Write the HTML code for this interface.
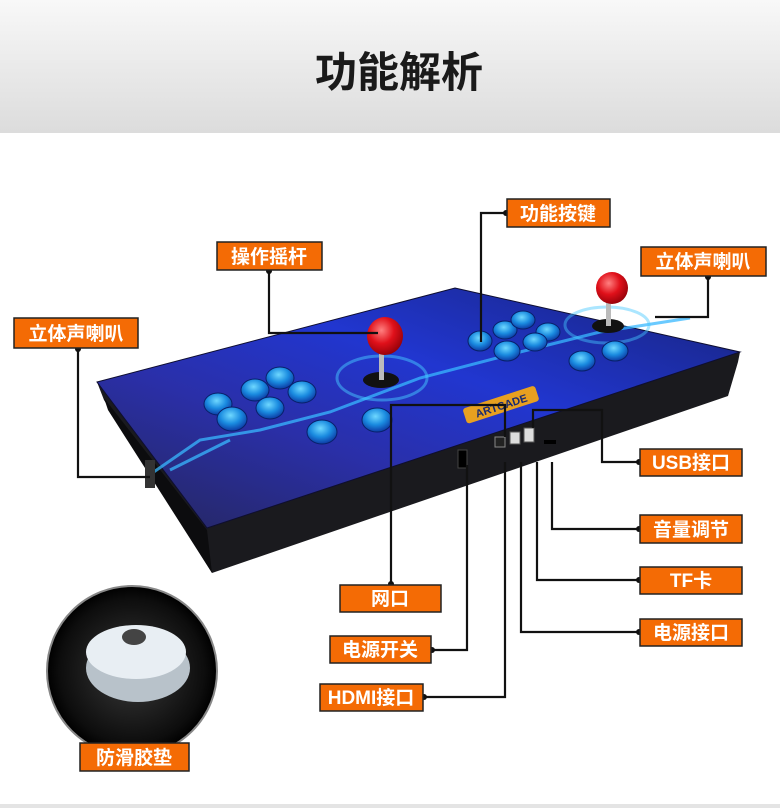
<!DOCTYPE html>
<html><head><meta charset="utf-8"><style>
html,body{margin:0;padding:0;background:#fff;}
svg{display:block;font-family:"Liberation Sans","Noto Sans CJK SC",sans-serif;}
</style></head><body>
<svg width="780" height="808" viewBox="0 0 780 808" xmlns="http://www.w3.org/2000/svg">
<defs>
<linearGradient id="hd" x1="0" y1="0" x2="0" y2="1"><stop offset="0" stop-color="#f8f8f8"/><stop offset="1" stop-color="#dcdcdc"/></linearGradient>
<linearGradient id="top" x1="0" y1="1" x2="1" y2="0"><stop offset="0" stop-color="#25265a"/><stop offset="0.35" stop-color="#2a2fa8"/><stop offset="0.6" stop-color="#2136d0"/><stop offset="0.85" stop-color="#1b2a9a"/><stop offset="1" stop-color="#14183e"/></linearGradient>
<radialGradient id="btn" cx="0.45" cy="0.35" r="0.7"><stop offset="0" stop-color="#6fd8ff"/><stop offset="0.5" stop-color="#1a8be0"/><stop offset="1" stop-color="#0a2d9a"/></radialGradient>
<radialGradient id="ball" cx="0.4" cy="0.35" r="0.7"><stop offset="0" stop-color="#ff8080"/><stop offset="0.5" stop-color="#e0101a"/><stop offset="1" stop-color="#900008"/></radialGradient>
<radialGradient id="pad" cx="0.5" cy="0.5" r="0.5"><stop offset="0" stop-color="#3a3a3a"/><stop offset="0.85" stop-color="#0d0d0d"/><stop offset="1" stop-color="#000"/></radialGradient>
</defs>
<rect x="0" y="0" width="780" height="133" fill="url(#hd)"/>
<text x="399" y="87" font-size="42" font-weight="bold" text-anchor="middle" fill="#1a1a1a">功能解析</text>
<rect x="0" y="804" width="780" height="4" fill="#e4e4e4"/>

<polygon points="97,382 207,528 740,352 738,362 728,396 212,573 104,400" fill="#1a1a1e"/>
<polygon points="104,398 207,530 212,573 108,410" fill="#0c0c0e"/>
<polygon points="97,382 455,288 740,352 207,528" fill="url(#top)" stroke="#0e0e30" stroke-width="1"/>
<g stroke="#38b8ff" stroke-width="3" fill="none" opacity="0.75">
<polyline points="145,478 200,440 260,430 330,412 420,378 520,352 600,332 690,318"/>
<polyline points="170,470 230,440"/>
</g>
<ellipse cx="382" cy="378" rx="45" ry="22" fill="none" stroke="#45c8ff" stroke-width="3" opacity="0.5"/>
<ellipse cx="607" cy="325" rx="42" ry="18" fill="none" stroke="#45c8ff" stroke-width="3" opacity="0.45"/>
<rect x="145" y="460" width="10" height="28" fill="#333"/>
<g transform="rotate(-18 500 405)"><rect x="463" y="397" width="76" height="16" rx="3" fill="#e8a020"/><text x="501" y="410" font-size="11" font-weight="bold" text-anchor="middle" fill="#1a2a70">ARTCADE</text></g>
<g fill="url(#btn)" stroke="#08206a" stroke-width="1">
<ellipse cx="218" cy="404" rx="14" ry="11"/><ellipse cx="255" cy="390" rx="14" ry="11"/><ellipse cx="280" cy="378" rx="14" ry="11"/>
<ellipse cx="302" cy="392" rx="14" ry="11"/><ellipse cx="232" cy="419" rx="15" ry="12"/><ellipse cx="270" cy="408" rx="14" ry="11"/>
<ellipse cx="322" cy="432" rx="15" ry="12"/><ellipse cx="377" cy="420" rx="15" ry="12"/>
<ellipse cx="480" cy="341" rx="12" ry="10"/><ellipse cx="505" cy="330" rx="12" ry="9"/><ellipse cx="523" cy="320" rx="12" ry="9"/>
<ellipse cx="548" cy="332" rx="12" ry="9"/><ellipse cx="507" cy="351" rx="13" ry="10"/><ellipse cx="535" cy="342" rx="12" ry="9"/>
<ellipse cx="582" cy="361" rx="13" ry="10"/><ellipse cx="615" cy="351" rx="13" ry="10"/>
</g>
<ellipse cx="381" cy="380" rx="18" ry="8" fill="#111"/>
<rect x="379" y="350" width="5" height="30" fill="#bbb"/>
<ellipse cx="385" cy="336" rx="18" ry="19" fill="url(#ball)"/>
<ellipse cx="608" cy="326" rx="16" ry="7" fill="#111"/>
<rect x="606" y="300" width="5" height="26" fill="#bbb"/>
<ellipse cx="612" cy="288" rx="16" ry="16" fill="url(#ball)"/>
<rect x="458" y="450" width="9" height="18" fill="#000" stroke="#444"/>
<rect x="495" y="437" width="10" height="10" fill="#222" stroke="#888"/>
<rect x="510" y="432" width="10" height="12" fill="#ddd" stroke="#555"/>
<rect x="524" y="428" width="10" height="14" fill="#ddd" stroke="#555"/>
<rect x="544" y="440" width="12" height="4" fill="#000"/>

<g stroke="#111" stroke-width="2.2" fill="none">
<polyline points="78,348 78,477 150,477"/>
<polyline points="269,270 269,333 378,333"/>
<polyline points="507,213 481,213 481,342"/>
<polyline points="708,276 708,317 655,317"/>
<polyline points="640,462 602,462 602,410 533,410 533,428"/>
<polyline points="640,529 552,529 552,462"/>
<polyline points="640,580 537,580 537,462"/>
<polyline points="640,632 521,632 521,462"/>
<polyline points="391,585 391,405 505,405 505,437"/>
<polyline points="431,650 467,650 467,465"/>
<polyline points="423,697 505,697 505,462"/>
</g>
<g fill="#111">
<circle cx="78" cy="349" r="3"/><circle cx="269" cy="271" r="3"/><circle cx="506" cy="213" r="3"/><circle cx="708" cy="277" r="3"/>
<circle cx="639" cy="462" r="3"/><circle cx="639" cy="529" r="3"/><circle cx="639" cy="580" r="3"/><circle cx="639" cy="632" r="3"/>
<circle cx="391" cy="584" r="3"/><circle cx="432" cy="650" r="3"/><circle cx="424" cy="697" r="3"/>
</g>

<circle cx="132" cy="671" r="85" fill="url(#pad)" stroke="#888" stroke-width="2"/>
<ellipse cx="138" cy="668" rx="52" ry="34" fill="#b8c2ca"/>
<ellipse cx="136" cy="652" rx="50" ry="27" fill="#e8eef3"/>
<ellipse cx="134" cy="637" rx="12" ry="8" fill="#444"/>

<g font-size="19" font-weight="bold" fill="#fff" text-anchor="middle">
<rect x="14" y="318" width="124" height="30" fill="#f46b05" stroke="#222" stroke-width="1.5"/><text x="76" y="340">立体声喇叭</text>
<rect x="217" y="242" width="105" height="28" fill="#f46b05" stroke="#222" stroke-width="1.5"/><text x="269" y="263">操作摇杆</text>
<rect x="507" y="199" width="103" height="28" fill="#f46b05" stroke="#222" stroke-width="1.5"/><text x="558" y="220">功能按键</text>
<rect x="641" y="247" width="125" height="29" fill="#f46b05" stroke="#222" stroke-width="1.5"/><text x="703" y="268">立体声喇叭</text>
<rect x="640" y="449" width="102" height="27" fill="#f46b05" stroke="#222" stroke-width="1.5"/><text x="691" y="469">USB接口</text>
<rect x="640" y="515" width="102" height="28" fill="#f46b05" stroke="#222" stroke-width="1.5"/><text x="691" y="536">音量调节</text>
<rect x="640" y="567" width="102" height="27" fill="#f46b05" stroke="#222" stroke-width="1.5"/><text x="691" y="587">TF卡</text>
<rect x="640" y="619" width="102" height="27" fill="#f46b05" stroke="#222" stroke-width="1.5"/><text x="691" y="639">电源接口</text>
<rect x="340" y="585" width="101" height="27" fill="#f46b05" stroke="#222" stroke-width="1.5"/><text x="390" y="605">网口</text>
<rect x="330" y="636" width="101" height="27" fill="#f46b05" stroke="#222" stroke-width="1.5"/><text x="380" y="656">电源开关</text>
<rect x="320" y="684" width="103" height="27" fill="#f46b05" stroke="#222" stroke-width="1.5"/><text x="371" y="704">HDMI接口</text>
<rect x="80" y="743" width="109" height="28" fill="#f46b05" stroke="#222" stroke-width="1.5"/><text x="134" y="764">防滑胶垫</text>
</g>
</svg>
</body></html>
